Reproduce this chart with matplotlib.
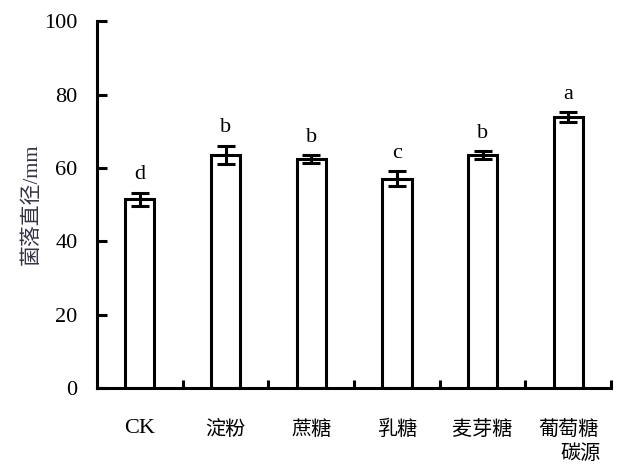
import numpy as np
import matplotlib
matplotlib.use('Agg')
import matplotlib.pyplot as plt
from matplotlib.ticker import FixedLocator

# 数据
categories = ['CK', '淀粉', '蔗糖', '乳糖', '麦芽糖', '葡萄糖']
diameter = [51.5, 63.6, 62.4, 57.1, 63.5, 73.9]
errors = [1.8, 2.5, 1.0, 2.0, 1.0, 1.3]
letters = ['d', 'b', 'b', 'c', 'b', 'a']

serif = ['Liberation Serif', 'Noto Sans CJK SC']
cjk = ['Noto Sans CJK SC', 'DejaVu Sans']

fig = plt.figure(figsize=(6.36, 4.71), dpi=100)
ax = fig.add_axes([0.1525, 0.176, 0.8085, 0.779])

x = np.arange(len(categories))
ax.bar(x, diameter, width=0.34, color='white', edgecolor='black', linewidth=2.2, zorder=2)
ax.errorbar(x, diameter, yerr=errors, fmt='none', ecolor='black', elinewidth=2.2,
            capsize=6.5, capthick=2.2, zorder=3)

for xi, v, e, t in zip(x, diameter, errors, letters):
    ax.text(xi, v + e + 2.3, t, ha='center', va='bottom', fontsize=16, family=serif)

ax.set_xlim(-0.5, 5.5)
ax.set_ylim(0, 100)
ax.set_yticks(np.arange(0, 101, 20))
ax.set_yticklabels([str(v) for v in range(0, 101, 20)], family=serif, fontsize=16)
ax.set_xticks(x)
ax.set_xticklabels(categories, fontsize=14.5)
for lab in ax.get_xticklabels():
    lab.set_family(serif if lab.get_text() == 'CK' else cjk)
    if lab.get_text() == 'CK':
        lab.set_fontsize(16)
ax.xaxis.set_minor_locator(FixedLocator(np.arange(0.5, 5.6, 1.0)))
ax.tick_params(axis='x', which='major', length=0, pad=22)
ax.tick_params(axis='x', which='minor', direction='in', length=6, width=2.2)
ax.tick_params(axis='y', direction='in', length=7, width=2.2, pad=14)

for s in ['top', 'right']:
    ax.spines[s].set_visible(False)
for s in ['left', 'bottom']:
    ax.spines[s].set_linewidth(2.2)

ax.set_ylabel('菌落直径/mm', family=serif, fontsize=15, color='#333344', labelpad=2)
ax.text(0.979, -0.178, '碳源', transform=ax.transAxes, ha='right', va='center',
        family=cjk, fontsize=14.5)

fig.savefig('out.png', dpi=100)
